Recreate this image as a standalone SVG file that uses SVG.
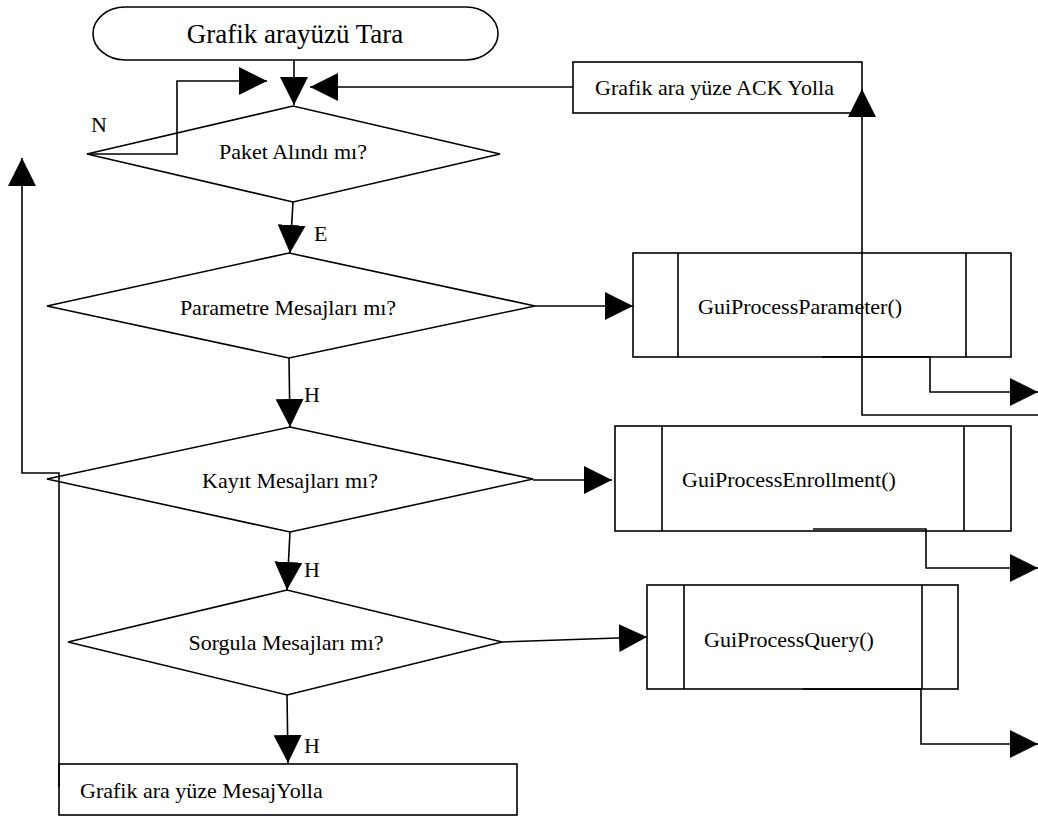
<svg xmlns="http://www.w3.org/2000/svg" width="1038" height="816" viewBox="0 0 1038 816">
<style>
.s{fill:none;stroke:#000;stroke-width:1.6}
.c{fill:none;stroke:#000;stroke-width:1.6}
.t{font-family:"Liberation Serif","Times New Roman",serif;font-size:22px;fill:#000}
.m{text-anchor:middle}
</style>
<defs>
<marker id="ah" viewBox="0 0 28 28" markerWidth="28" markerHeight="28" refX="28" refY="14" orient="auto" markerUnits="userSpaceOnUse">
<path d="M0,0 L28,14 L0,28 z" fill="#000"/>
</marker>
</defs>
<rect width="1038" height="816" fill="#fff"/>
<g id="start">
<rect class="s" x="93" y="7" width="405" height="53" rx="32" ry="26.5"/>
<text class="t m" x="295" y="43" style="font-size:27px">Grafik arayüzü Tara</text>
</g>
<g id="ack">
<rect class="s" x="573" y="62" width="289" height="51"/>
<text class="t" x="595" y="95">Grafik ara yüze ACK Yolla</text>
</g>
<g id="d1">
<polygon class="s" points="87,154 293,106 500,154 293,202"/>
<text class="t m" x="293" y="159">Paket Alındı mı?</text>
</g>
<g id="d2">
<polygon class="s" points="47,306 289,253 535,306 289,358"/>
<text class="t m" x="288" y="315">Parametre Mesajları mı?</text>
</g>
<g id="d3">
<polygon class="s" points="47,479 290,427 533,479 290,532"/>
<text class="t m" x="290" y="488">Kayıt Mesajları mı?</text>
</g>
<g id="d4">
<polygon class="s" points="68,642 287,590 502,642 287,695"/>
<text class="t m" x="286" y="650">Sorgula Mesajları mı?</text>
</g>
<g id="param">
<rect class="s" x="633" y="253" width="378" height="104"/>
<path class="c" d="M678,253 V357 M966,253 V357"/>
<text class="t" x="698" y="314">GuiProcessParameter()</text>
</g>
<g id="enroll">
<rect class="s" x="615" y="426" width="396" height="105"/>
<path class="c" d="M662,426 V531 M964,426 V531"/>
<text class="t" x="682" y="487">GuiProcessEnrollment()</text>
</g>
<g id="query">
<rect class="s" x="647" y="585" width="311" height="104"/>
<path class="c" d="M684,585 V689 M922,585 V689"/>
<text class="t" x="704" y="647">GuiProcessQuery()</text>
</g>
<g id="msg">
<rect class="s" x="59" y="764" width="458" height="51"/>
<text class="t" x="80" y="798">Grafik ara yüze MesajYolla</text>
</g>
<g id="connectors">
<path class="c" d="M294,60 L294,105" marker-end="url(#ah)"/>
<path class="c" d="M87,154 L177,154 L177,81 L267,81" marker-end="url(#ah)"/>
<path class="c" d="M573,87 L310,87" marker-end="url(#ah)"/>
<path class="c" d="M1038,415 L862,415 L862,89" marker-end="url(#ah)"/>
<path class="c" d="M293,202 L290,253" marker-end="url(#ah)"/>
<path class="c" d="M535,306 L633,306" marker-end="url(#ah)"/>
<path class="c" d="M289,358 L290,427" marker-end="url(#ah)"/>
<path class="c" d="M533,480 L612,480" marker-end="url(#ah)"/>
<path class="c" d="M290,532 L287,590" marker-end="url(#ah)"/>
<path class="c" d="M502,642 L647,637" marker-end="url(#ah)"/>
<path class="c" d="M287,695 L288,763" marker-end="url(#ah)"/>
<path class="c" d="M59,787 L59,473 L22,473 L22,158" marker-end="url(#ah)"/>
<path class="c" d="M822,357 L930,357 L930,392 L1038,392" marker-end="url(#ah)"/>
<path class="c" d="M813,529 L926,529 L926,568 L1038,568" marker-end="url(#ah)"/>
<path class="c" d="M803,689 L921,689 L921,744 L1038,744" marker-end="url(#ah)"/>
<text class="t" x="91" y="132">N</text>
<text class="t" x="314" y="241">E</text>
<text class="t" x="304" y="402">H</text>
<text class="t" x="304" y="577">H</text>
<text class="t" x="304" y="753">H</text>
</g>
</svg>
